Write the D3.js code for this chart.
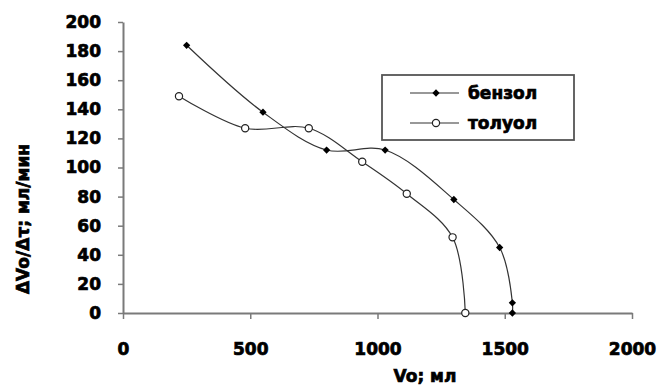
<!DOCTYPE html>
<html>
<head>
<meta charset="utf-8">
<script src="https://cdn.jsdelivr.net/npm/d3@7"></script>
<style>
  html, body { margin: 0; padding: 0; background: #fff; }
  svg { display: block; }
  text { font-family: "DejaVu Sans", sans-serif; font-weight: bold; fill: #000; stroke: #000; stroke-width: 0.7px; }
</style>
</head>
<body>
<svg id="chart" width="659" height="385"></svg>
<script>
// Volume collected (мл) and filtration rate (мл/мин) for each solvent
const benzolVo   = [250, 550, 800, 1030, 1300, 1480, 1530, 1530];
const benzolRate = [184, 138, 112, 112, 78, 45, 7, 0];
const toluolVo   = [220, 480, 730, 940, 1115, 1295, 1345];
const toluolRate = [149, 127, 127, 104, 82, 52, 0];

const xTicks = [0, 500, 1000, 1500, 2000];
const yTicks = [0, 20, 40, 60, 80, 100, 120, 140, 160, 180, 200];
const seriesNames = ["бензол", "толуол"];
const xTitle = "Vo; мл";
const yTitle = "ΔVo/Δτ; мл/мин";

const svg = d3.select("#chart");
const plot = { left: 123, right: 632, top: 22, bottom: 313 };

const x = d3.scaleLinear().domain([0, 2000]).range([plot.left, plot.right]);
const y = d3.scaleLinear().domain([0, 200]).range([plot.bottom, plot.top]);

const axisColor = "#7a7a7a";
const fmt = d3.format("d");

// X axis
const gx = svg.append("g").attr("transform", `translate(0,${plot.bottom})`)
  .call(d3.axisBottom(x).tickValues(xTicks).tickFormat(fmt).tickSize(6).tickPadding(24).tickSizeOuter(0));
gx.select(".domain").attr("stroke", axisColor).attr("stroke-width", 2);
gx.selectAll(".tick line").attr("stroke", axisColor).attr("stroke-width", 1.5);
gx.selectAll(".tick text").style("font-size", "17px").style("font-family", "DejaVu Sans").style("font-weight", "bold");

// Y axis
const gy = svg.append("g").attr("transform", `translate(${plot.left},0)`)
  .call(d3.axisLeft(y).tickValues(yTicks).tickFormat(fmt).tickSize(5).tickPadding(17).tickSizeOuter(0));
gy.select(".domain").attr("stroke", axisColor).attr("stroke-width", 2);
gy.selectAll(".tick line").attr("stroke", axisColor).attr("stroke-width", 1.5);
gy.selectAll(".tick text").style("font-size", "17px").style("font-family", "DejaVu Sans").style("font-weight", "bold");

// Axis titles
svg.append("text")
  .attr("x", 425).attr("y", 382)
  .attr("text-anchor", "middle")
  .style("font-size", "17px")
  .text(xTitle);

svg.append("text")
  .attr("transform", "translate(29,219) rotate(-90)")
  .attr("text-anchor", "middle")
  .style("font-size", "17px")
  .text(yTitle);

// Series lines
const line = d3.line()
  .x(d => x(d[0])).y(d => y(d[1]))
  .curve(d3.curveCatmullRom.alpha(0.5));

const benzol = benzolVo.map((v, i) => [v, benzolRate[i]]);
const toluol = toluolVo.map((v, i) => [v, toluolRate[i]]);

svg.append("path").datum(benzol).attr("d", line)
  .attr("fill", "none").attr("stroke", "#333").attr("stroke-width", 1.2);
svg.append("path").datum(toluol).attr("d", line)
  .attr("fill", "none").attr("stroke", "#333").attr("stroke-width", 1.2);

const diamond = d3.symbol().type(d3.symbolDiamond2).size(34);

svg.append("g").selectAll("path").data(benzol).join("path")
  .attr("d", diamond)
  .attr("transform", d => `translate(${x(d[0])},${y(d[1])})`)
  .attr("fill", "#000");

svg.append("g").selectAll("circle").data(toluol).join("circle")
  .attr("cx", d => x(d[0])).attr("cy", d => y(d[1]))
  .attr("r", 3.6)
  .attr("fill", "#fff").attr("stroke", "#222").attr("stroke-width", 1.2);

// Legend
const lg = svg.append("g");
lg.append("rect").attr("x", 382).attr("y", 75).attr("width", 192).attr("height", 65)
  .attr("fill", "#fff").attr("stroke", "#555").attr("stroke-width", 1.8);

const legendRows = [93, 123];
seriesNames.forEach((name, i) => {
  const ly = legendRows[i];
  lg.append("line").attr("x1", 410).attr("x2", 459).attr("y1", ly).attr("y2", ly)
    .attr("stroke", "#333").attr("stroke-width", 1.2);
  if (i === 0) {
    lg.append("path").attr("d", diamond).attr("transform", `translate(436,${ly})`).attr("fill", "#000");
  } else {
    lg.append("circle").attr("cx", 436).attr("cy", ly).attr("r", 3.6)
      .attr("fill", "#fff").attr("stroke", "#222").attr("stroke-width", 1.2);
  }
  lg.append("text").attr("x", 468).attr("y", ly).attr("dy", "0.35em")
    .style("font-size", "17px").text(name);
});
</script>
</body>
</html>
